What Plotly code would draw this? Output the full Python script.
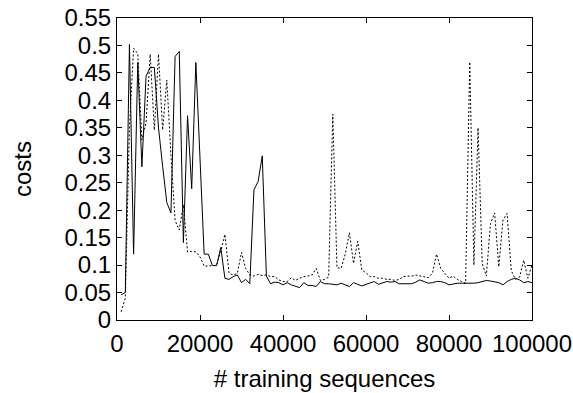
import plotly.graph_objects as go

# x positions (training sequences), one sample per 1000
x_values = [1000 * k for k in range(1, 101)]

solid_costs = [
    0.046, 0.05, 0.502, 0.12, 0.469, 0.279, 0.444, 0.46, 0.46, 0.35,
    0.28, 0.214, 0.195, 0.48, 0.489, 0.141, 0.372, 0.239, 0.469, 0.29,
    0.12, 0.12, 0.099, 0.099, 0.132, 0.076, 0.074, 0.079, 0.082, 0.068,
    0.074, 0.066, 0.237, 0.252, 0.299, 0.08, 0.066, 0.069, 0.068, 0.064,
    0.068, 0.064, 0.062, 0.059, 0.068, 0.063, 0.063, 0.061, 0.07, 0.066,
    0.066, 0.065, 0.064, 0.067, 0.064, 0.061, 0.068, 0.065, 0.062, 0.065,
    0.067, 0.07, 0.065, 0.067, 0.07, 0.069, 0.07, 0.066, 0.066, 0.066,
    0.066, 0.069, 0.073, 0.07, 0.067, 0.068, 0.07, 0.07, 0.068, 0.064,
    0.066, 0.067, 0.067, 0.067, 0.066, 0.067, 0.068, 0.07, 0.072, 0.071,
    0.07, 0.068, 0.064, 0.07, 0.074, 0.076, 0.073, 0.068, 0.07, 0.068,
]

dotted_costs = [
    0.015, 0.04, 0.35, 0.495, 0.485, 0.328, 0.359, 0.484, 0.346, 0.484,
    0.346, 0.437, 0.3, 0.181, 0.164, 0.21, 0.124, 0.125, 0.124, 0.115,
    0.098, 0.098, 0.099, 0.1, 0.125, 0.156, 0.085, 0.082, 0.085, 0.123,
    0.094, 0.082, 0.08, 0.083, 0.081, 0.082, 0.079, 0.079, 0.073, 0.07,
    0.07, 0.077, 0.072, 0.076, 0.079, 0.08, 0.082, 0.094, 0.072, 0.074,
    0.078, 0.375, 0.095, 0.094, 0.12, 0.159, 0.103, 0.143, 0.091, 0.086,
    0.079, 0.079, 0.076, 0.076, 0.074, 0.074, 0.072, 0.074, 0.079, 0.08,
    0.08, 0.082, 0.08, 0.079, 0.077, 0.085, 0.12, 0.094, 0.085, 0.076,
    0.08, 0.074, 0.07, 0.067, 0.47, 0.1, 0.35, 0.103, 0.08, 0.176,
    0.195, 0.097, 0.182, 0.194, 0.09, 0.074, 0.078, 0.109, 0.076, 0.1,
]

x_tick_values = [0, 20000, 40000, 60000, 80000, 100000]
x_tick_labels = ["0", "20000", "40000", "60000", "80000", "100000"]
y_tick_values = [0, 0.05, 0.1, 0.15, 0.2, 0.25, 0.3, 0.35, 0.4, 0.45, 0.5, 0.55]
y_tick_labels = ["0", "0.05", "0.1", "0.15", "0.2", "0.25", "0.3", "0.35",
                 "0.4", "0.45", "0.5", "0.55"]

x_title = "# training sequences"
y_title = "costs"

font_family = "Liberation Sans, Arial, sans-serif"
font_size = 24

fig = go.Figure()
fig.add_trace(go.Scatter(x=x_values, y=solid_costs, mode="lines",
                         line=dict(color="black", width=1), showlegend=False))
fig.add_trace(go.Scatter(x=x_values, y=dotted_costs, mode="lines",
                         line=dict(color="black", width=1, dash="2px,2px"),
                         showlegend=False))

axis_common = dict(
    showline=True, linecolor="black", linewidth=1, mirror="ticks",
    ticks="inside", ticklen=5, tickcolor="black", tickwidth=1,
    showgrid=False, zeroline=False,
    tickfont=dict(family=font_family, size=font_size, color="black"),
)

fig.update_xaxes(range=[0, 100000], tickvals=x_tick_values, ticktext=x_tick_labels,
                 ticklabelstandoff=2,
                 title=dict(text=x_title, standoff=14,
                            font=dict(family=font_family, size=font_size, color="black")),
                 **axis_common)
fig.update_yaxes(range=[0, 0.55], tickvals=y_tick_values, ticktext=y_tick_labels,
                 title=dict(text=y_title, standoff=26,
                            font=dict(family=font_family, size=font_size, color="black")),
                 **axis_common)

fig.update_layout(
    width=573, height=393,
    margin=dict(l=117, r=41, t=18, b=73, autoexpand=False),
    paper_bgcolor="white", plot_bgcolor="white",
    font=dict(family=font_family, size=font_size, color="black"),
)

fig.write_html("out.html", config={"displayModeBar": False},
               post_script="document.body.style.margin='0px';document.body.style.padding='0px';")
